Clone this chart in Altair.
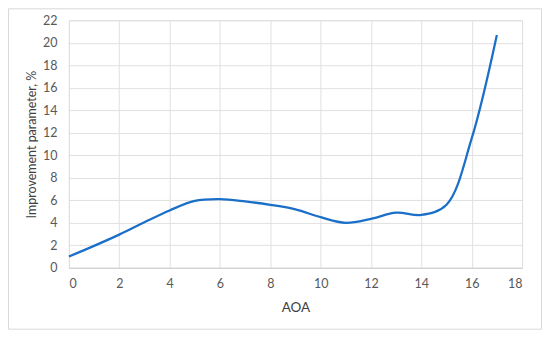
import altair as alt
import pandas as pd

aoa = [0, 1, 2, 3, 4, 5, 6, 7, 8, 9, 10, 11, 12, 13, 14, 15, 16, 17]
improvement = [1.0, 1.95, 2.95, 4.05, 5.1, 5.95, 6.1, 5.9, 5.6, 5.2, 4.5, 4.0, 4.35, 4.9, 4.7, 5.6, 11.5, 20.7]
x_ticks = list(range(0, 19, 2))
y_ticks = list(range(0, 23, 2))

df = pd.DataFrame({"AOA": aoa, "imp": improvement})

font = "Lato"

line = alt.Chart(df).mark_line(
    interpolate="catmull-rom", color="#1a6fc8", strokeWidth=2.25
).encode(
    x=alt.X("AOA:Q", title="AOA",
            scale=alt.Scale(domain=[0, 18], nice=False),
            axis=alt.Axis(values=x_ticks, ticks=False, labelPadding=10,
                          titlePadding=10, titleFontSize=13.5,
                          domainColor="#d0d0d0", gridColor="#e0e0e0")),
    y=alt.Y("imp:Q", title="Improvement parameter, %",
            scale=alt.Scale(domain=[0, 22], nice=False),
            axis=alt.Axis(values=y_ticks, ticks=False, labelPadding=12,
                          titlePadding=4, titleFontSize=12.5, domain=False,
                          gridColor="#e0e0e0")),
)

border = alt.Chart(pd.DataFrame({"a": [0]})).mark_rect(
    fill=None, stroke="#d9d9d9", strokeWidth=1
).encode(
    x=alt.value(-60.5), x2=alt.value(473.5),
    y=alt.value(-11.5), y2=alt.value(309.5)
)

chart = alt.layer(border, line).properties(
    width=454, height=248,
    autosize=alt.AutoSizeParams(type="none"),
    padding={"left": 61, "top": 12, "right": 20, "bottom": 62},
    background="white",
).configure_view(
    stroke="#e0e0e0"
).configure_axis(
    labelFont=font, titleFont=font,
    labelFontSize=12.5,
    labelColor="#595959", titleColor="#404040",
    titleFontWeight="normal",
)

chart.save("out.html", embed_options={"renderer": "svg", "actions": False})
